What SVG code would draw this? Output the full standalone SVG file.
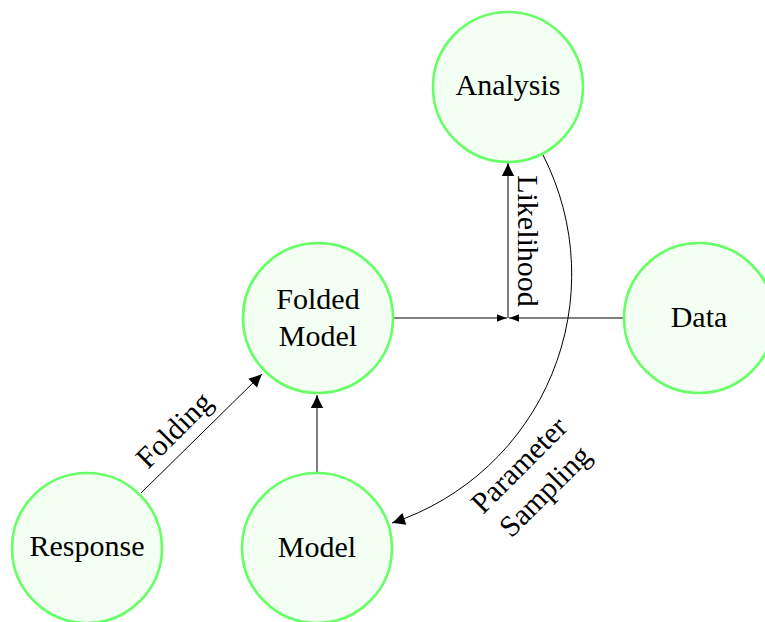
<svg xmlns="http://www.w3.org/2000/svg" width="765" height="622" viewBox="0 0 765 622">
  <style>
    .node circle { fill: #f2fff2; stroke: #66ff66; stroke-width: 2.6; }
    .node text, .lbl { font-family: "Liberation Serif", "Times New Roman", serif; font-size: 30px; fill: #000; text-anchor: middle; }
    .edge { fill: none; stroke: #000; stroke-width: 1; }
  </style>
  <defs>
    <marker id="big" markerUnits="userSpaceOnUse" markerWidth="16" markerHeight="14" viewBox="-14 -7 16 14" refX="0" refY="0" orient="auto">
      <path d="M0,0 C-4,-1.6 -9,-4 -13,-6.2 L-13,6.2 C-9,4 -4,1.6 0,0 Z" fill="#000"/>
    </marker>
    <marker id="small" markerUnits="userSpaceOnUse" markerWidth="12" markerHeight="10" viewBox="-11 -5 12 10" refX="0" refY="0" orient="auto">
      <path d="M0,0 C-3,-1 -7,-2.5 -10,-3.8 L-10,3.8 C-7,2.5 -3,1 0,0 Z" fill="#000"/>
    </marker>
  </defs>

  <g id="connectors">
    <path class="edge" d="M141,493 L262,374" marker-end="url(#big)"/>
    <path class="edge" d="M317,472 L317,395" marker-end="url(#big)"/>
    <path class="edge" d="M394,318 L507,318" marker-end="url(#small)"/>
    <path class="edge" d="M623,318 L509,318" marker-end="url(#small)"/>
    <path class="edge" d="M508,318 L508,163" marker-end="url(#big)"/>
    <path class="edge" d="M543,155 A262,262 0 0 1 392,523" marker-end="url(#big)"/>
    <text class="lbl" transform="translate(181,437) rotate(-45)">Folding</text>
    <text class="lbl" transform="translate(518,241) rotate(90)">Likelihood</text>
    <text class="lbl" transform="translate(526,472) rotate(-45)">Parameter</text>
    <text class="lbl" transform="translate(552,498) rotate(-45)">Sampling</text>
  </g>

  <g id="analysis" class="node">
    <circle cx="508" cy="87" r="75"/>
    <text x="508" y="95">Analysis</text>
  </g>
  <g id="folded-model" class="node">
    <circle cx="318" cy="318" r="75"/>
    <text x="318" y="309">Folded</text>
    <text x="318" y="346">Model</text>
  </g>
  <g id="data" class="node">
    <circle cx="699" cy="318" r="75"/>
    <text x="699" y="327">Data</text>
  </g>
  <g id="response" class="node">
    <circle cx="87" cy="548" r="75"/>
    <text x="87" y="556">Response</text>
  </g>
  <g id="model" class="node">
    <circle cx="317" cy="548" r="75"/>
    <text x="317" y="557">Model</text>
  </g>
</svg>
